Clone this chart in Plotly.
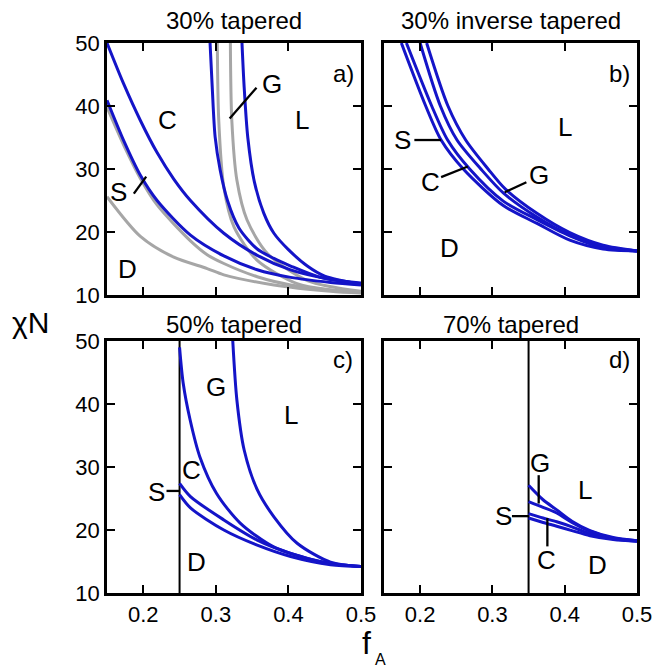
import plotly.graph_objects as go

# ---------------- data ----------------
# panel a: 30% tapered  (blue = current, grey = reference)
a_DS_f = [0.15, 0.173, 0.196, 0.219, 0.265, 0.311, 0.357, 0.403, 0.458, 0.5]
a_DS_chi = [40.9, 34.5, 29.0, 25.0, 19.5, 16.2, 14.0, 12.8, 12.0, 11.6]
a_SC_f = [0.15, 0.173, 0.196, 0.219, 0.242, 0.265, 0.311, 0.357, 0.403, 0.458, 0.5]
a_SC_chi = [50.0, 43.5, 37.7, 32.6, 28.4, 25.0, 19.8, 16.3, 14.0, 12.5, 11.9]
a_CG_f = [0.292, 0.295, 0.299, 0.306, 0.316, 0.332, 0.357, 0.38, 0.403, 0.444, 0.5]
a_CG_chi = [50.0, 43.0, 35.1, 29.8, 25.0, 20.6, 17.3, 15.8, 14.6, 12.8, 11.8]
a_GL_f = [0.336, 0.339, 0.344, 0.353, 0.366, 0.38, 0.40, 0.426, 0.45, 0.5]
a_GL_chi = [50.0, 43.0, 35.0, 28.0, 23.0, 19.8, 17.2, 14.6, 13.0, 11.7]
g1_f = [0.15, 0.196, 0.242, 0.288, 0.311, 0.38, 0.458, 0.5]
g1_chi = [25.6, 19.3, 16.0, 14.2, 13.2, 11.6, 10.6, 10.3]
g2_f = [0.15, 0.173, 0.196, 0.219, 0.265, 0.288, 0.311, 0.357, 0.403, 0.458, 0.5]
g2_chi = [39.8, 33.8, 28.5, 24.3, 18.6, 16.4, 15.0, 12.9, 11.6, 10.8, 10.5]
g3_f = [0.302, 0.304, 0.311, 0.325, 0.357, 0.412, 0.458, 0.5]
g3_chi = [50.0, 37.7, 27.1, 20.8, 15.5, 11.8, 10.8, 10.4]
g4_f = [0.32, 0.322, 0.329, 0.343, 0.371, 0.426, 0.5]
g4_chi = [50.0, 37.7, 28.2, 21.9, 16.6, 12.3, 10.6]

# panel b: 30% inverse tapered
b_DS_f = [0.174, 0.2077, 0.229, 0.2597, 0.315, 0.361, 0.407, 0.453, 0.5]
b_DS_chi = [50.0, 40.0, 34.6, 30.0, 24.2, 21.4, 18.7, 17.3, 17.0]
b_SC_f = [0.181, 0.216, 0.238, 0.2685, 0.315, 0.361, 0.407, 0.453, 0.5]
b_SC_chi = [50.0, 40.0, 34.6, 30.0, 24.9, 22.0, 19.4, 17.5, 17.0]
b_CG_f = [0.200, 0.228, 0.251, 0.284, 0.315, 0.361, 0.407, 0.453, 0.5]
b_CG_chi = [50.0, 40.0, 34.6, 30.0, 26.2, 22.4, 19.5, 17.7, 17.0]
b_GL_f = [0.209, 0.2385, 0.263, 0.294, 0.318, 0.361, 0.407, 0.453, 0.5]
b_GL_chi = [50.0, 40.0, 34.6, 30.0, 26.8, 23.0, 19.9, 17.9, 17.0]

# panel c: 50% tapered
c_boundary = 0.25
c_CG_f = [0.25, 0.255, 0.2645, 0.278, 0.301, 0.3335, 0.379, 0.4255, 0.4576, 0.5]
c_CG_chi = [49.0, 43.3, 37.5, 31.6, 25.8, 21.1, 17.35, 15.5, 14.7, 14.2]
c_GL_f = [0.3233, 0.329, 0.339, 0.357, 0.38, 0.412, 0.458, 0.5]
c_GL_chi = [50.0, 40.6, 32.7, 26.4, 22.1, 17.9, 14.9, 14.2]
c_SC_f = [0.25, 0.265, 0.311, 0.357, 0.403, 0.458, 0.5]
c_SC_chi = [27.4, 25.3, 21.6, 18.4, 16.3, 14.7, 14.2]
c_DS_f = [0.25, 0.265, 0.311, 0.357, 0.403, 0.458, 0.5]
c_DS_chi = [25.6, 23.5, 20.0, 17.6, 15.8, 14.5, 14.2]

# panel d: 70% tapered
d_boundary = 0.35
d_f = [0.35, 0.37, 0.389, 0.41, 0.435, 0.467, 0.5]
d_GL_chi = [27.1, 24.8, 23.2, 21.4, 19.9, 18.8, 18.3]
d_CG_chi = [24.5, 23.6, 22.7, 21.2, 19.8, 18.7, 18.3]
d_SC_chi = [22.6, 21.9, 21.3, 20.5, 19.4, 18.6, 18.2]
d_DS_chi = [21.9, 21.2, 20.6, 19.9, 19.1, 18.5, 18.2]

titles = ["30% tapered", "30% inverse tapered", "50% tapered", "70% tapered"]
panel_tags = ["a)", "b)", "c)", "d)"]
tag_chi = [45.1, 45.1, 47.0, 47.0]
x_ticks = [0.2, 0.3, 0.4, 0.5]
y_ticks = [10, 20, 30, 40, 50]

# phase labels: (panel, text, f, chi)
phase_labels = [
    (0, "C", 0.234, 37.7), (0, "L", 0.419, 37.7), (0, "G", 0.378, 43.5),
    (0, "S", 0.166, 26.3), (0, "D", 0.178, 14.2),
    (1, "S", 0.176, 34.6), (1, "C", 0.215, 28.0), (1, "G", 0.365, 29.0),
    (1, "L", 0.400, 36.7), (1, "D", 0.241, 17.4),
    (2, "G", 0.300, 42.7), (2, "L", 0.403, 38.2), (2, "C", 0.267, 29.5),
    (2, "S", 0.218, 26.0), (2, "D", 0.274, 15.0),
    (3, "G", 0.366, 30.6), (3, "L", 0.428, 26.3), (3, "S", 0.315, 22.2),
    (3, "C", 0.375, 15.2), (3, "D", 0.446, 14.4),
]
# pointer segments: (panel, f0, chi0, f1, chi1)
pointers = [
    (0, 0.319, 38.0, 0.356, 42.9), (0, 0.187, 26.1, 0.204, 28.8),
    (1, 0.192, 34.6, 0.229, 34.6), (1, 0.229, 28.7, 0.266, 30.4),
    (1, 0.317, 26.3, 0.347, 27.9),
    (2, 0.232, 26.2, 0.25, 26.2),
    (3, 0.364, 28.7, 0.364, 24.2), (3, 0.327, 22.2, 0.35, 22.2),
    (3, 0.376, 21.9, 0.376, 17.4),
]

BLUE = "#1414c8"
GREY = "#a6a6a6"
FONT = "Liberation Sans, Arial, sans-serif"

W, H = 655, 667
xdom = [[107 / W, 361 / W], [384 / W, 637 / W]]
ydom = [[(H - 295) / H, (H - 43) / H], [(H - 593) / H, (H - 341) / H]]
title_shift = [7, 1]
# panel -> (col, row)
panel_pos = [(0, 0), (1, 0), (0, 1), (1, 1)]

fig = go.Figure()


def ax_names(p):
    n = "" if p == 0 else str(p + 1)
    return "x" + n, "y" + n


def add_curve(p, f, chi, color, width=3):
    xa, ya = ax_names(p)
    fig.add_trace(go.Scatter(x=f, y=chi, mode="lines", xaxis=xa, yaxis=ya,
                             line=dict(color=color, width=width, shape="spline",
                                       smoothing=0.8),
                             showlegend=False, hoverinfo="skip"))


def add_seg(p, f0, c0, f1, c1, width=2.3):
    xa, ya = ax_names(p)
    fig.add_trace(go.Scatter(x=[f0, f1], y=[c0, c1], mode="lines", xaxis=xa,
                             yaxis=ya, line=dict(color="black", width=width),
                             showlegend=False, hoverinfo="skip"))


# panel a
for f, c in [(g1_f, g1_chi), (g2_f, g2_chi), (g3_f, g3_chi), (g4_f, g4_chi)]:
    add_curve(0, f, c, GREY)
for f, c in [(a_DS_f, a_DS_chi), (a_SC_f, a_SC_chi), (a_CG_f, a_CG_chi), (a_GL_f, a_GL_chi)]:
    add_curve(0, f, c, BLUE)
# panel b
for f, c in [(b_DS_f, b_DS_chi), (b_SC_f, b_SC_chi), (b_CG_f, b_CG_chi), (b_GL_f, b_GL_chi)]:
    add_curve(1, f, c, BLUE)
# panel c
add_seg(2, c_boundary, 10, c_boundary, 50, width=2)
for f, c in [(c_CG_f, c_CG_chi), (c_GL_f, c_GL_chi), (c_SC_f, c_SC_chi), (c_DS_f, c_DS_chi)]:
    add_curve(2, f, c, BLUE)
# panel d
add_seg(3, d_boundary, 10, d_boundary, 50, width=2)
for c in [d_GL_chi, d_CG_chi, d_SC_chi, d_DS_chi]:
    add_curve(3, d_f, c, BLUE)

for (p, f0, c0, f1, c1) in pointers:
    add_seg(p, f0, c0, f1, c1)

annotations = []
for (p, t, f, c) in phase_labels:
    xa, ya = ax_names(p)
    annotations.append(dict(text=t, x=f, y=c, xref=xa, yref=ya, showarrow=False,
                            xanchor="center", yanchor="middle",
                            font=dict(family=FONT, size=26, color="black")))
for p in range(4):
    xa, ya = ax_names(p)
    annotations.append(dict(text=panel_tags[p], x=0.4755, y=tag_chi[p], xref=xa, yref=ya,
                            showarrow=False, xanchor="center", yanchor="middle",
                            font=dict(family=FONT, size=24, color="black")))
    col, row = panel_pos[p]
    annotations.append(dict(text=titles[p], x=(xdom[col][0] + xdom[col][1]) / 2,
                            y=ydom[row][1], xref="paper", yref="paper",
                            xanchor="center", yanchor="bottom", yshift=title_shift[row],
                            showarrow=False,
                            font=dict(family=FONT, size=24, color="black")))
annotations.append(dict(text="χN", x=30 / W, y=1 - 322 / H, xref="paper", yref="paper",
                        xanchor="center", yanchor="middle", showarrow=False,
                        font=dict(family=FONT, size=30, color="black")))
annotations.append(dict(text="f", x=367 / W, y=1 - 643 / H, xref="paper",
                        yref="paper", xanchor="center", yanchor="middle", showarrow=False,
                        borderpad=0,
                        font=dict(family=FONT, size=32, color="black")))
annotations.append(dict(text="A", x=380 / W, y=1 - 659 / H, xref="paper",
                        yref="paper", xanchor="center", yanchor="middle", showarrow=False,
                        borderpad=0,
                        font=dict(family=FONT, size=16, color="black")))

layout = dict(width=W, height=H, margin=dict(l=0, r=0, t=0, b=0, autoexpand=False),
              paper_bgcolor="white", plot_bgcolor="white",
              annotations=annotations, showlegend=False)
for p in range(4):
    col, row = panel_pos[p]
    n = "" if p == 0 else str(p + 1)
    xa_ref, ya_ref = ax_names(p)
    layout["xaxis" + n] = dict(
        domain=xdom[col], range=[0.15, 0.5], anchor=ya_ref, automargin=False,
        tickvals=x_ticks, ticktext=[str(v) for v in x_ticks],
        showticklabels=(row == 1), ticks="inside", ticklen=8, tickwidth=2.3,
        tickcolor="black", showline=True, linecolor="black", linewidth=2.5,
        mirror="ticks", showgrid=False, zeroline=False,
        tickfont=dict(family=FONT, size=22, color="black"))
    layout["yaxis" + n] = dict(
        domain=ydom[row], range=[10, 50], anchor=xa_ref, automargin=False,
        tickvals=y_ticks, ticktext=[str(v) for v in y_ticks],
        showticklabels=(col == 0), ticks="inside", ticklen=8, tickwidth=2.3,
        tickcolor="black", showline=True, linecolor="black", linewidth=2.5,
        mirror="ticks", showgrid=False, zeroline=False,
        tickfont=dict(family=FONT, size=22, color="black"))
fig.update_layout(**layout)
fig.write_html("out.html", config={"displayModeBar": False},
               post_script="document.body.style.margin='0';"
                           "document.body.style.padding='0';"
                           "document.body.style.overflow='hidden';")
